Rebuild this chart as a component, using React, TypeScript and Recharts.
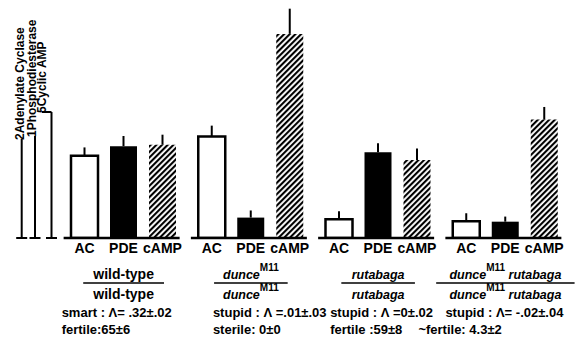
import React from 'react';
import {
  BarChart,
  Bar,
  XAxis,
  YAxis,
  ErrorBar,
  LabelList,
  ReferenceLine,
  ReferenceDot,
} from 'recharts';

const GENOTYPES = ['wild-type', 'dunce', 'rutabaga', 'dunce rutabaga'];

// each enzyme is in its own units, see the scale bars on the left
const AC = [1.66, 2.05, 0.38, 0.34];
const AC_SD = [0.17, 0.22, 0.16, 0.16];
const PDE = [0.9, 0.2, 0.84, 0.16];
const PDE_SD = [0.1, 0.07, 0.09, 0.05];
const CAMP = [3.7, 8.1, 3.1, 4.7];
const CAMP_SD = [0.4, 1.0, 0.45, 0.5];

const BAR_NAMES = ['AC', 'PDE', 'cAMP'];
const SCALE_NAMES = ['Adenylate Cyclase', 'Phosphodiesterase', 'Cyclic AMP'];
const SCALE_UNITS = [2, 1, 5];

// genotype fractions: [text, italic, superscript]
type Part = [string, boolean, boolean];
const GENOTYPE_PARTS: Part[][] = [
  [['wild-type', false, false]],
  [['dunce', true, false], ['M11', false, true]],
  [['rutabaga', true, false]],
  [['dunce', true, false], ['M11', false, true], [' rutabaga', true, false]],
];

const LEARNING = ['smart : Λ= .32±.02', 'stupid : Λ =.01±.03', 'stupid : Λ =0±.02', 'stupid : Λ= -.02±.04'];
const FERTILITY = ['fertile:65±6', 'sterile: 0±0', 'fertile :59±8', '~fertile: 4.3±2'];

const data = GENOTYPES.map((g, i) => ({
  g,
  ac: AC[i],
  acSd: [0, AC_SD[i]],
  pde: PDE[i],
  pdeSd: [0, PDE_SD[i]],
  camp: CAMP[i],
  campSd: [0, CAMP_SD[i]],
}));

const FONT = '"Liberation Sans", Arial, sans-serif';
const AXIS_IDS = ['ac', 'pde', 'camp'];
// left-hand scale bars sit on a hidden numeric x axis (0..56.9)
const SCALE_X = [2.17, 3.5, 5.15];
const SCALE_LABEL_DX = [-2, -3, -9.5];
const STAT_DX = [-62, -38, -48, -60];
const FERT_DX = [-62, -38, -48, -87];

function Genotype({ parts, x, y }: { parts: Part[]; x: number; y: number }) {
  let shift = 0;
  return (
    <text x={x} y={y} textAnchor="middle" fontSize={14} fontWeight="bold" fill="#000">
      {parts.map(([t, it, sup], k) => {
        const target = sup ? -8 : 0;
        const dy = target - shift;
        shift = target;
        return (
          <tspan key={k} dy={dy} fontStyle={it ? 'italic' : 'normal'} fontSize={sup ? 10 : it ? 12.5 : 14}>
            {t}
          </tspan>
        );
      })}
    </text>
  );
}

function GenotypeTick(props: any) {
  const { x, y } = props;
  const i = props.index ?? props.payload?.index ?? 0;
  const parts = GENOTYPE_PARTS[i];
  const len = parts.reduce((s, p) => s + p[0].length, 0);
  const half = len * 3.6 + 8;
  return (
    <g fontFamily={FONT} fontWeight="bold" fill="#000">
      <line x1={x - 60} x2={x + 56} y1={y} y2={y} stroke="#000" strokeWidth={2.5} />
      <Genotype parts={parts} x={x} y={y + 41} />
      <line x1={x - half} x2={x + half} y1={y + 45} y2={y + 45} stroke="#000" strokeWidth={1.5} />
      <Genotype parts={parts} x={x} y={y + 61} />
      <text x={x + STAT_DX[i]} y={y + 79} fontSize={13}>{LEARNING[i]}</text>
      <text x={x + FERT_DX[i]} y={y + 96} fontSize={13}>{FERTILITY[i]}</text>
    </g>
  );
}

function barName(k: number) {
  return (p: any) => (
    <text
      x={p.x + p.width / 2}
      y={p.y + p.height + 15}
      textAnchor="middle"
      fontFamily={FONT}
      fontWeight="bold"
      fontSize={14}
      fill="#000"
    >
      {BAR_NAMES[k]}
    </text>
  );
}

function scaleLabel(k: number) {
  return (p: any) => {
    const dx = SCALE_LABEL_DX[k];
    return (
      <g>
        {dx < -5 && <line x1={p.cx + dx} x2={p.cx} y1={p.cy} y2={p.cy} stroke="#000" strokeWidth={2} />}
        <text
          transform={`translate(${p.cx + dx},${p.cy + 1}) rotate(-90)`}
          dominantBaseline="central"
          fontFamily={FONT}
          fontWeight="bold"
          fontSize={12}
          fill="#000"
        >
          {SCALE_UNITS[k]}
          {SCALE_NAMES[k]}
        </text>
      </g>
    );
  };
}

export default function App() {
  return (
    <div style={{ position: 'absolute', left: 0, top: 0, width: 587, height: 339, background: '#fff' }}>
      <BarChart
        width={587}
        height={339}
        data={data}
        margin={{ top: 5, right: 18, bottom: 0, left: 0 }}
        barSize={27}
        barGap={12}
      >
        <defs>
          <pattern id="hatch" patternUnits="userSpaceOnUse" width={4} height={4} patternTransform="rotate(45)">
            <rect x={0} y={0} width={2.1} height={4} fill="#000" />
          </pattern>
        </defs>
        <XAxis
          dataKey="g"
          type="category"
          padding={{ left: 60, right: 0 }}
          axisLine={false}
          tickLine={false}
          tickSize={0}
          tickMargin={0}
          height={101}
          interval={0}
          tick={GenotypeTick}
        />
        <XAxis
          xAxisId="scale"
          type="number"
          dataKey={() => 0}
          domain={[0, 56.9]}
          allowDataOverflow
          hide
        />
        <YAxis yAxisId="ac" domain={[0, 4.707]} allowDataOverflow hide />
        <YAxis yAxisId="pde" domain={[0, 2.284]} allowDataOverflow hide />
        <YAxis yAxisId="camp" domain={[0, 9.246]} allowDataOverflow hide />

        {SCALE_UNITS.map((u, k) => (
          <ReferenceLine
            key={`bar-${k}`}
            xAxisId="scale"
            yAxisId={AXIS_IDS[k]}
            segment={[{ x: SCALE_X[k], y: 0 }, { x: SCALE_X[k], y: u }]}
            stroke="#000"
            strokeWidth={2}
          />
        ))}
        {SCALE_UNITS.map((u, k) => (
          <ReferenceLine
            key={`foot-${k}`}
            xAxisId="scale"
            yAxisId={AXIS_IDS[k]}
            segment={[{ x: SCALE_X[k] - 0.55, y: 0 }, { x: SCALE_X[k] + 0.55, y: 0 }]}
            stroke="#000"
            strokeWidth={2}
          />
        ))}
        {SCALE_UNITS.map((u, k) => (
          <ReferenceDot
            key={`lab-${k}`}
            xAxisId="scale"
            yAxisId={AXIS_IDS[k]}
            x={SCALE_X[k]}
            y={u}
            shape={scaleLabel(k)}
          />
        ))}

        <Bar yAxisId="ac" dataKey="ac" fill="#fff" stroke="#000" strokeWidth={2.5} isAnimationActive={false}>
          <ErrorBar dataKey="acSd" width={0} stroke="#000" strokeWidth={2} direction="y" />
          <LabelList dataKey="ac" content={barName(0)} />
        </Bar>
        <Bar yAxisId="pde" dataKey="pde" fill="#000" isAnimationActive={false}>
          <ErrorBar dataKey="pdeSd" width={0} stroke="#000" strokeWidth={2} direction="y" />
          <LabelList dataKey="pde" content={barName(1)} />
        </Bar>
        <Bar yAxisId="camp" dataKey="camp" fill="url(#hatch)" isAnimationActive={false}>
          <ErrorBar dataKey="campSd" width={0} stroke="#000" strokeWidth={2} direction="y" />
          <LabelList dataKey="camp" content={barName(2)} />
        </Bar>
      </BarChart>
    </div>
  );
}
